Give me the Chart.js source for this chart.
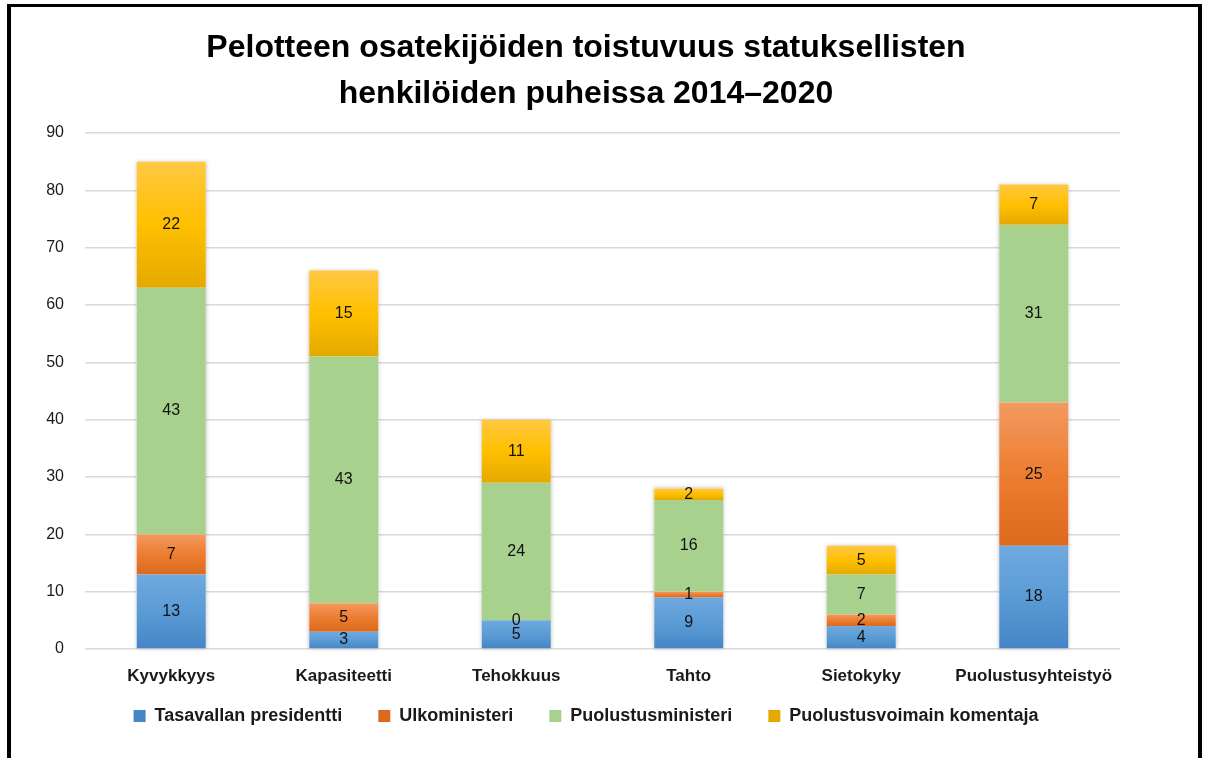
<!DOCTYPE html>
<html><head><meta charset="utf-8">
<script src="https://cdn.jsdelivr.net/npm/chart.js@4.4.1/dist/chart.umd.min.js"></script>
<style>
html,body{margin:0;padding:0;background:#fff;overflow:hidden}
#wrap{position:relative;width:1205px;height:758px}
#frame{position:absolute;left:7px;top:4px;width:1195px;height:800px;box-sizing:border-box;border:4px solid #000;border-top-width:3px;border-bottom:none;pointer-events:none}
</style></head><body>
<div id="wrap"><canvas id="c" width="1205" height="758"></canvas><div id="frame"></div></div>
<script>
const titleLines = ['Pelotteen osatekijöiden toistuvuus statuksellisten', 'henkilöiden puheissa 2014–2020'];
const categories = ['Kyvykkyys', 'Kapasiteetti', 'Tehokkuus', 'Tahto', 'Sietokyky', 'Puolustusyhteistyö'];
const seriesNames = ['Tasavallan presidentti', 'Ulkoministeri', 'Puolustusministeri', 'Puolustusvoimain komentaja'];
const presidentti = [13, 3, 5, 9, 4, 18];
const ulkoministeri = [7, 5, 0, 1, 2, 25];
const puolustusministeri = [43, 43, 24, 16, 7, 31];
const komentaja = [22, 15, 11, 2, 5, 7];
const yMin = 0, yMax = 90, yStep = 10;

const FONT = '"Liberation Sans", Arial, sans-serif';

function gradFill(top, mid, bot, flat) {
  return function (ctx) {
    if (ctx.type !== 'data') return flat;
    const chart = ctx.chart, y = chart.scales.y;
    if (!y) return flat;
    const i = ctx.dataIndex, d = ctx.datasetIndex;
    let start = 0;
    for (let k = 0; k < d; k++) start += chart.data.datasets[k].data[i];
    const end = start + chart.data.datasets[d].data[i];
    const y0 = y.getPixelForValue(end), y1 = y.getPixelForValue(start);
    if (!isFinite(y0) || !isFinite(y1) || Math.abs(y1 - y0) < 1) return flat;
    const g = chart.ctx.createLinearGradient(0, y0, 0, y1);
    g.addColorStop(0, top); g.addColorStop(0.5, mid); g.addColorStop(1, bot);
    return g;
  };
}

// soft shadow around each whole stack, drawn before the bars
const stackShadow = {
  id: 'stackShadow',
  beforeDatasetsDraw(chart) {
    const ctx = chart.ctx;
    const n = chart.data.labels.length;
    const last = chart.getDatasetMeta(chart.data.datasets.length - 1).data;
    const first = chart.getDatasetMeta(0).data;
    ctx.save();
    ctx.shadowColor = 'rgba(0,0,0,0.28)';
    ctx.shadowBlur = 4;
    ctx.fillStyle = '#ffffff';
    for (let i = 0; i < n; i++) {
      const top = last[i].y, base = first[i].base, w = first[i].width;
      ctx.fillRect(first[i].x - w / 2, top, w, base - top);
    }
    ctx.restore();
  }
};

const valueLabels = {
  id: 'valueLabels',
  afterDatasetsDraw(chart) {
    const ctx = chart.ctx;
    ctx.save();
    ctx.font = '16px ' + FONT;
    ctx.fillStyle = '#111111';
    ctx.textAlign = 'center';
    ctx.textBaseline = 'middle';
    chart.data.datasets.forEach((ds, di) => {
      chart.getDatasetMeta(di).data.forEach((el, i) => {
        ctx.fillText(String(ds.data[i]), el.x, (el.y + el.base) / 2);
      });
    });
    ctx.restore();
  }
};

const seriesData = [presidentti, ulkoministeri, puolustusministeri, komentaja];
const fills = [
  gradFill('#6fa9df', '#5b9bd5', '#4685c6', '#5b9bd5'),
  gradFill('#f29a60', '#ed7d31', '#dc6a1c', '#ed7d31'),
  gradFill('#a9d18e', '#a9d18e', '#a9d18e', '#a9d18e'),
  gradFill('#ffc843', '#ffc000', '#e4a900', '#ffc000')
];

function noLabelClip(s) { s._computeLabelArea = function () { return undefined; }; }

new Chart(document.getElementById('c'), {
  type: 'bar',
  data: {
    labels: categories,
    datasets: seriesNames.map((n, k) => ({
      label: n,
      data: seriesData[k],
      backgroundColor: fills[k],
      borderWidth: 0,
      barPercentage: 0.4,
      categoryPercentage: 1
    }))
  },
  options: {
    responsive: false,
    animation: false,
    devicePixelRatio: 1,
    layout: { padding: { left: 52, right: 85, top: 0, bottom: 23 } },
    plugins: {
      title: {
        display: true,
        text: titleLines,
        color: '#000',
        font: { family: FONT, size: 32, weight: 'bold', lineHeight: 1.4375 },
        padding: { top: 25, bottom: 16 }
      },
      legend: {
        position: 'bottom',
        labels: {
          boxWidth: 12, boxHeight: 12, padding: 36,
          color: '#1a1a1a',
          font: { family: FONT, size: 18, weight: 'bold' }
        }
      },
      tooltip: { enabled: false }
    },
    scales: {
      x: {
        stacked: true,
        grid: { display: false, drawTicks: false },
        border: { display: false },
        ticks: { padding: 17, color: '#1a1a1a', font: { family: FONT, size: 17, weight: 'bold' } },
        afterFit(s) { s.height = 22; noLabelClip(s); }
      },
      y: {
        stacked: true,
        min: yMin, max: yMax,
        ticks: { stepSize: yStep, padding: 21, color: '#1a1a1a', font: { family: FONT, size: 16 } },
        grid: { color: '#d9d9d9', lineWidth: 1.5, drawTicks: false },
        border: { display: false },
        afterFit(s) { s.width = 33; noLabelClip(s); }
      }
    }
  },
  plugins: [stackShadow, valueLabels]
});
</script>
</body></html>
